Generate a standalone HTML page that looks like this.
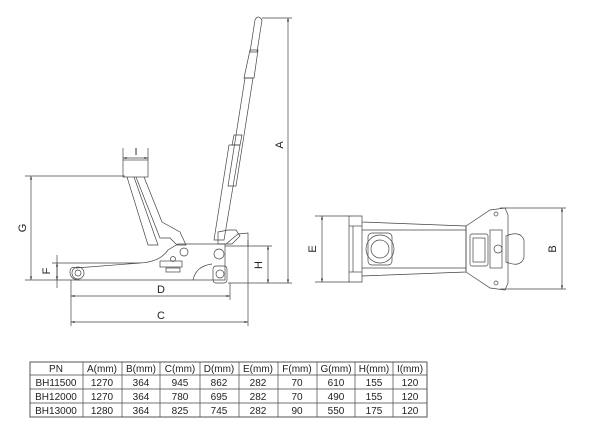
<!DOCTYPE html>
<html><head><meta charset="utf-8"><style>
body{margin:0;background:#fff;width:605px;height:442px;overflow:hidden}
svg{display:block}
text{font-family:"Liberation Sans",sans-serif;fill:#222}
</style></head><body>
<svg width="605" height="442" viewBox="0 0 605 442" xmlns="http://www.w3.org/2000/svg">
<defs>
<marker id="ar" viewBox="0 0 10 10" refX="10" refY="5" markerWidth="5" markerHeight="5" orient="auto-start-reverse"><path d="M0,2 L10,5 L0,8 z" fill="#333"/></marker>
</defs>
<g stroke="#444" stroke-width="0.7" fill="none">
<!-- extension lines -->
<line x1="262" y1="18" x2="292" y2="18"/>
<line x1="228" y1="283" x2="292" y2="283"/>
<line x1="225" y1="246" x2="272" y2="246"/>
<line x1="25" y1="176" x2="125" y2="176"/>
<line x1="25" y1="280" x2="80" y2="280"/>
<line x1="52" y1="263" x2="140" y2="263"/>
<line x1="71" y1="280" x2="71" y2="326"/>
<line x1="230" y1="283" x2="230" y2="300"/>
<line x1="248" y1="240" x2="248" y2="326"/>
<line x1="123" y1="148" x2="123" y2="160"/>
<line x1="148" y1="148" x2="148" y2="160"/>
<!-- dims -->
<line x1="288" y1="18" x2="288" y2="283" marker-start="url(#ar)" marker-end="url(#ar)"/>
<line x1="31" y1="176" x2="31" y2="280" marker-start="url(#ar)" marker-end="url(#ar)"/>
<line x1="57" y1="255" x2="57" y2="288"/>
<line x1="57" y1="263" x2="57" y2="280" marker-start="url(#ar)" marker-end="url(#ar)"/>
<line x1="71" y1="296" x2="230" y2="296" marker-start="url(#ar)" marker-end="url(#ar)"/>
<line x1="71" y1="322" x2="248" y2="322" marker-start="url(#ar)" marker-end="url(#ar)"/>
<line x1="268" y1="246" x2="268" y2="283" marker-start="url(#ar)" marker-end="url(#ar)"/>
<line x1="123" y1="158" x2="148" y2="158" marker-start="url(#ar)" marker-end="url(#ar)"/>
<!-- handle -->
<path d="M255,20 Q258,14 262,20 L257,52 L250,52 Z"/>
<path d="M250,50 L258,50 L254,78 L244,78 Z"/>
<path d="M245,78 L253,78 L236,186 L228,186 Z"/>
<path d="M234,135 L242,135 L240,145 L232,145 Z"/>
<path d="M229,145 L240,145 L224,240 L214,240 Z"/>
<path d="M218,232 L228,230 L236,230 L240,236 L232,244 L218,244Z"/>
<!-- saddle & arm -->
<rect x="123" y="160" width="25" height="17"/>
<path d="M127,177 L148,245 L158,245 L134,177"/>
<path d="M136,177 L160,238 L170,238 L177,245 L186,245 L180,232 L162,222 L144,177"/>
<!-- body -->
<path d="M76,268 L140,263 Q160,262 168,250 L178,244 L225,244 L225,280 L80,280 Q70,280 70,272 Q70,266 76,268Z"/>
<circle cx="78" cy="273" r="6"/><circle cx="78" cy="273" r="3"/>
<circle cx="184" cy="252" r="4"/><circle cx="173" cy="259" r="2.5"/>
<rect x="160" y="261" width="22" height="6"/>
<rect x="166" y="268" width="14" height="4"/>
<path d="M193,280 Q196,266 212,264"/>
<rect x="213" y="266" width="14" height="17" rx="3"/>
<circle cx="220" cy="274" r="4"/>
<circle cx="219" cy="254" r="5"/>
<path d="M226,244 L238,234 L248,233 L248,246"/>
<!-- top view -->
<line x1="315" y1="216" x2="350" y2="216"/>
<line x1="315" y1="282" x2="350" y2="282"/>
<line x1="322" y1="216" x2="322" y2="282" marker-start="url(#ar)" marker-end="url(#ar)"/>
<line x1="500" y1="208" x2="566" y2="208"/>
<line x1="500" y1="289" x2="566" y2="289"/>
<line x1="562" y1="208" x2="562" y2="289" marker-start="url(#ar)" marker-end="url(#ar)"/>
<path d="M349,216 L362,216 L362,222 L466,226 L466,272 L362,276 L362,282 L349,282 Z"/>
<line x1="349" y1="226" x2="362" y2="226"/><line x1="349" y1="272" x2="362" y2="272"/>
<line x1="362" y1="222" x2="362" y2="276"/>
<line x1="353" y1="226" x2="353" y2="272"/>
<line x1="362" y1="230" x2="466" y2="230"/><line x1="362" y1="268" x2="466" y2="268"/>
<circle cx="380" cy="249" r="14"/><circle cx="380" cy="249" r="9"/>
<rect x="368" y="233" width="24" height="32" rx="4"/>
<path d="M466,226 L490,210 L505,208 L508,215 L508,283 L505,290 L490,288 L466,272 Z"/>
<circle cx="496" cy="214" r="2"/><circle cx="496" cy="283" r="2"/>
<rect x="470" y="234" width="18" height="32" rx="2"/>
<rect x="473" y="238" width="12" height="24"/>
<rect x="490" y="230" width="12" height="38"/>
<circle cx="498" cy="249" r="4"/>
<path d="M506,236 Q520,230 524,240 L524,258 Q520,268 506,262 Z"/>
<!-- table -->
<rect x="30" y="362" width="397" height="55" stroke="#555" stroke-width="1"/>
<line x1="30" y1="375" x2="427" y2="375"/><line x1="30" y1="389" x2="427" y2="389"/><line x1="30" y1="403" x2="427" y2="403"/>
<line x1="83" y1="362" x2="83" y2="417"/><line x1="122" y1="362" x2="122" y2="417"/><line x1="160" y1="362" x2="160" y2="417"/>
<line x1="200" y1="362" x2="200" y2="417"/><line x1="239" y1="362" x2="239" y2="417"/><line x1="278" y1="362" x2="278" y2="417"/>
<line x1="317" y1="362" x2="317" y2="417"/><line x1="355" y1="362" x2="355" y2="417"/><line x1="393" y1="362" x2="393" y2="417"/>
</g>
<g font-size="11" text-anchor="middle">
<text x="283" y="145" transform="rotate(-90 283 145)">A</text>
<text x="26" y="228" transform="rotate(-90 26 228)">G</text>
<text x="50" y="271" transform="rotate(-90 50 271)">F</text>
<text x="262" y="265" transform="rotate(-90 262 265)">H</text>
<text x="316" y="249" transform="rotate(-90 316 249)">E</text>
<text x="556" y="249" transform="rotate(-90 556 249)">B</text>
<text x="161" y="293">D</text>
<text x="161" y="319">C</text>
<text x="136" y="155" font-size="10">I</text>
</g>
<g font-size="10" text-anchor="middle">
<text x="56" y="372">PN</text><text x="102" y="372">A(mm)</text><text x="141" y="372">B(mm)</text><text x="180" y="372">C(mm)</text><text x="219" y="372">D(mm)</text><text x="258" y="372">E(mm)</text><text x="297" y="372">F(mm)</text><text x="336" y="372">G(mm)</text><text x="374" y="372">H(mm)</text><text x="410" y="372">I(mm)</text>
<text x="56" y="386">BH11500</text><text x="102" y="386">1270</text><text x="141" y="386">364</text><text x="180" y="386">945</text><text x="219" y="386">862</text><text x="258" y="386">282</text><text x="297" y="386">70</text><text x="336" y="386">610</text><text x="374" y="386">155</text><text x="410" y="386">120</text>
<text x="56" y="400">BH12000</text><text x="102" y="400">1270</text><text x="141" y="400">364</text><text x="180" y="400">780</text><text x="219" y="400">695</text><text x="258" y="400">282</text><text x="297" y="400">70</text><text x="336" y="400">490</text><text x="374" y="400">155</text><text x="410" y="400">120</text>
<text x="56" y="414">BH13000</text><text x="102" y="414">1280</text><text x="141" y="414">364</text><text x="180" y="414">825</text><text x="219" y="414">745</text><text x="258" y="414">282</text><text x="297" y="414">90</text><text x="336" y="414">550</text><text x="374" y="414">175</text><text x="410" y="414">120</text>
</g>
</svg>
</body></html>
